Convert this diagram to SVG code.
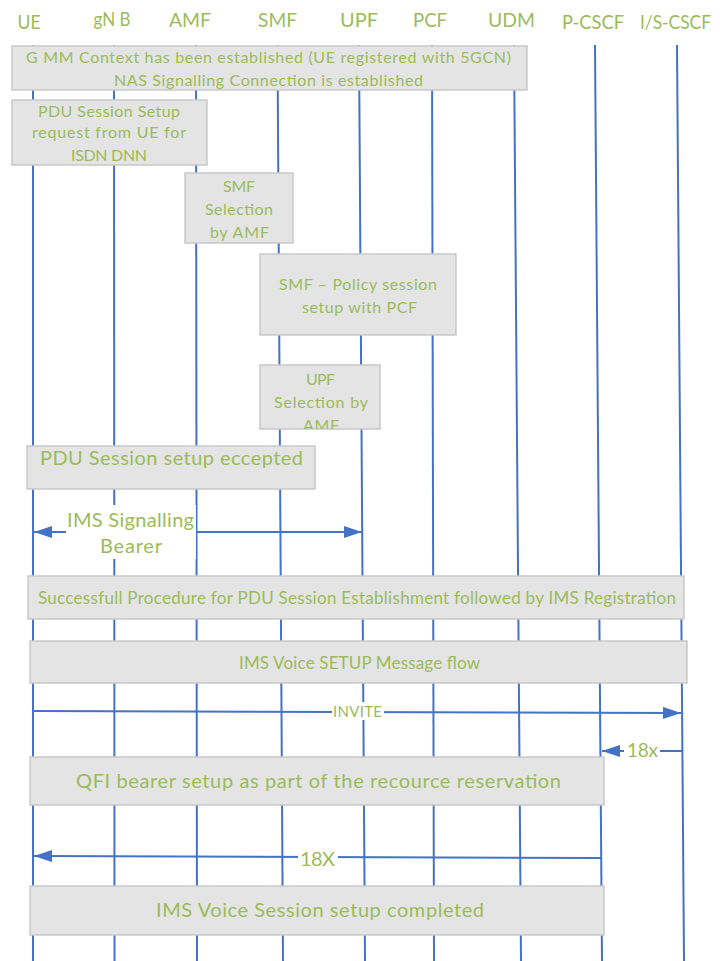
<svg xmlns="http://www.w3.org/2000/svg" width="720" height="961" viewBox="0 0 720 961">
<style>
.hdr{font-family:Lato,"Open Sans","Liberation Sans",sans-serif;font-size:20px;fill:#9BBB59;text-anchor:middle}
.t{font-family:Lato,"Open Sans","Liberation Sans",sans-serif;fill:#9BBB59;text-anchor:middle}
.box{fill:#E4E4E4;stroke:#C9C9C9;stroke-width:1.5}
.life{stroke:#4472C4;stroke-width:2;fill:none}
.msg{stroke:#4472C4;stroke-width:2;fill:none}
</style>
<defs>
<marker id="ah" viewBox="0 0 18 12" refX="18" refY="6" markerWidth="18" markerHeight="12" markerUnits="userSpaceOnUse" orient="auto-start-reverse">
<path d="M0,0 L18,6 L0,12 Z" fill="#4472C4"/>
</marker>
<clipPath id="clipUpf"><rect x="260" y="365" width="120" height="64"/></clipPath>
</defs>
<rect width="720" height="961" fill="#fff"/>

<g id="headers">
<text class="hdr" x="29" y="29" textLength="23" lengthAdjust="spacingAndGlyphs">UE</text>
<text class="hdr" x="112" y="26" textLength="37" lengthAdjust="spacingAndGlyphs">gN B</text>
<text class="hdr" x="190" y="27" textLength="42" lengthAdjust="spacingAndGlyphs">AMF</text>
<text class="hdr" x="277.5" y="27" textLength="39" lengthAdjust="spacingAndGlyphs">SMF</text>
<text class="hdr" x="359" y="27" textLength="38" lengthAdjust="spacingAndGlyphs">UPF</text>
<text class="hdr" x="430" y="27" textLength="34" lengthAdjust="spacingAndGlyphs">PCF</text>
<text class="hdr" x="511.5" y="27" textLength="47" lengthAdjust="spacingAndGlyphs">UDM</text>
<text class="hdr" x="593" y="29" textLength="62" lengthAdjust="spacingAndGlyphs">P-CSCF</text>
<text class="hdr" x="640" y="29" style="text-anchor:start" textLength="71" lengthAdjust="spacingAndGlyphs">I/S-CSCF</text>
</g>

<g id="lifelines">
<line class="life" x1="33" y1="45" x2="33" y2="961"/>
<line class="life" x1="114" y1="45" x2="114.5" y2="961"/>
<line class="life" x1="196" y1="45" x2="197" y2="961"/>
<line class="life" x1="277.5" y1="45" x2="283" y2="961"/>
<line class="life" x1="359" y1="45" x2="365" y2="961"/>
<line class="life" x1="432" y1="45" x2="434" y2="961"/>
<line class="life" x1="514" y1="45" x2="521" y2="961"/>
<line class="life" x1="595" y1="45" x2="602" y2="961"/>
<line class="life" x1="677" y1="45" x2="684" y2="961"/>
</g>

<g id="n1">
<rect class="box" x="12" y="46" width="515" height="44"/>
<text class="t" font-size="16" x="268.5" y="63" textLength="485" lengthAdjust="spacing">G MM Context has been established (UE registered with 5GCN)</text>
<text class="t" font-size="16" x="268.5" y="86" textLength="309" lengthAdjust="spacing">NAS Signalling Connection is established</text>
</g>

<g id="n2">
<rect class="box" x="12" y="100" width="195" height="65"/>
<text class="t" font-size="16" x="109" y="117" textLength="142" lengthAdjust="spacing">PDU Session Setup</text>
<text class="t" font-size="16" x="109" y="138" textLength="154" lengthAdjust="spacing">request from UE for</text>
<text class="t" font-size="16" x="109" y="161" textLength="76" lengthAdjust="spacing">ISDN DNN</text>
</g>

<g id="n3">
<rect class="box" x="185" y="173" width="108" height="70"/>
<text class="t" font-size="16" x="239" y="192" textLength="32" lengthAdjust="spacing">SMF</text>
<text class="t" font-size="16" x="239" y="215" textLength="68" lengthAdjust="spacing">Selection</text>
<text class="t" font-size="16" x="239.5" y="238" textLength="59" lengthAdjust="spacing">by AMF</text>
</g>

<g id="n4">
<rect class="box" x="260" y="254" width="196" height="81"/>
<text class="t" font-size="16" x="358" y="290" textLength="158" lengthAdjust="spacing">SMF – Policy session</text>
<text class="t" font-size="16" x="359.5" y="313" textLength="115" lengthAdjust="spacing">setup with PCF</text>
</g>

<g id="n5">
<rect class="box" x="260" y="365" width="120" height="64"/>
<g clip-path="url(#clipUpf)">
<text class="t" font-size="16" x="320.5" y="385" textLength="29" lengthAdjust="spacing">UPF</text>
<text class="t" font-size="16" x="321" y="408" textLength="94" lengthAdjust="spacing">Selection by</text>
<text class="t" font-size="16" x="321" y="431" textLength="36" lengthAdjust="spacing">AMF</text>
</g>
</g>

<g id="n6">
<rect class="box" x="27" y="446" width="288" height="43"/>
<text class="t" font-size="20" x="171.5" y="465" textLength="263" lengthAdjust="spacing">PDU Session setup eccepted</text>
</g>

<g id="n7">
<rect class="box" x="28" y="576" width="656" height="43"/>
<text class="t" font-size="17" x="357" y="604" textLength="638" lengthAdjust="spacing">Successfull Procedure for PDU Session Establishment followed by IMS Registration</text>
</g>

<g id="n8">
<rect class="box" x="30" y="641" width="657" height="42"/>
<text class="t" font-size="17" x="359.5" y="669" textLength="241" lengthAdjust="spacing">IMS Voice SETUP Message flow</text>
</g>

<g id="n9">
<rect class="box" x="30" y="757" width="574" height="48"/>
<text class="t" font-size="20" x="318.5" y="788" textLength="485" lengthAdjust="spacing">QFI bearer setup as part of the recource reservation</text>
</g>

<g id="n10">
<rect class="box" x="30" y="886" width="574" height="49"/>
<text class="t" font-size="20" x="320" y="917" textLength="328" lengthAdjust="spacing">IMS Voice Session setup completed</text>
</g>

<g id="connectors">
<line class="msg" x1="34" y1="532" x2="362" y2="532" marker-start="url(#ah)" marker-end="url(#ah)"/>
<rect x="66" y="505" width="130" height="54" fill="#fff"/>
<text class="t" font-size="20" x="130.5" y="527" textLength="127" lengthAdjust="spacing">IMS Signalling</text>
<text class="t" font-size="20" x="131" y="553" textLength="62" lengthAdjust="spacing">Bearer</text>

<line class="msg" x1="34" y1="711" x2="681" y2="713" marker-end="url(#ah)"/>
<rect x="332" y="702" width="52" height="18" fill="#fff"/>
<text class="t" font-size="15" x="357.5" y="717" textLength="49" lengthAdjust="spacing">INVITE</text>

<line class="msg" x1="683" y1="751" x2="602" y2="751" marker-end="url(#ah)"/>
<rect x="624" y="740" width="36" height="22" fill="#fff"/>
<text class="t" font-size="19" x="642.5" y="757" textLength="31" lengthAdjust="spacing">18x</text>

<line class="msg" x1="601" y1="858" x2="34" y2="856" marker-end="url(#ah)"/>
<rect x="298" y="845" width="40" height="24" fill="#fff"/>
<text class="t" font-size="20" x="317.5" y="866" textLength="35" lengthAdjust="spacing">18X</text>
</g>
</svg>
